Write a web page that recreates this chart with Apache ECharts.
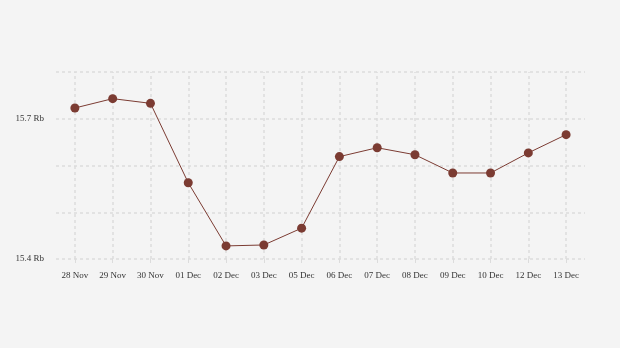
<!DOCTYPE html>
<html>
<head>
<meta charset="utf-8">
<script src="https://cdn.jsdelivr.net/npm/echarts@6/dist/echarts.min.js"></script>
<style>
html,body{margin:0;padding:0;background:#f4f4f4;}
#chart{width:620px;height:348px;}
</style>
</head>
<body>
<div id="chart"></div>
<script>
var categories = ['28 Nov','29 Nov','30 Nov','01 Dec','02 Dec','03 Dec','05 Dec','06 Dec','07 Dec','08 Dec','09 Dec','10 Dec','12 Dec','13 Dec'];
var values = [15.723, 15.743, 15.733, 15.563, 15.428, 15.430, 15.466, 15.619, 15.638, 15.623, 15.584, 15.584, 15.627, 15.666];
var yLabelValues = [15.4, 15.7];
var yLabelSuffix = ' Rb';

var chart = echarts.init(document.getElementById('chart'));
var gridColor = '#dcdcdc';
chart.setOption({
  backgroundColor: '#f4f4f4',
  animation: false,
  grid: { left: 56, right: 35, top: 72, bottom: 89 },
  xAxis: {
    type: 'category',
    data: categories,
    boundaryGap: true,
    axisLine: { show: false },
    axisTick: { show: true, alignWithLabel: true, length: 4, lineStyle: { color: gridColor } },
    splitLine: { show: false },
    axisLabel: { color: '#333', fontFamily: 'Liberation Serif', fontSize: 9, margin: 12 }
  },
  yAxis: {
    type: 'value',
    min: 15.4,
    max: 15.8,
    interval: 0.1,
    axisLine: { show: false },
    axisTick: { show: false },
    splitLine: { show: true, lineStyle: { color: gridColor, type: [3, 3], width: 1.5 } },
    axisLabel: {
      color: '#333', fontFamily: 'Liberation Serif', fontSize: 9, margin: 12,
      formatter: function (v) {
        for (var i = 0; i < yLabelValues.length; i++) {
          if (Math.abs(v - yLabelValues[i]) < 1e-6) return yLabelValues[i].toFixed(1) + yLabelSuffix;
        }
        return '';
      }
    }
  },
  series: [
    {
      type: 'line',
      data: [],
      zlevel: 0,
      z: 1,
      markLine: {
        silent: true,
        symbol: ['none', 'none'],
        label: { show: false },
        lineStyle: { color: gridColor, type: [3, 3], width: 1.5 },
        data: categories.map(function (c) { return { xAxis: c }; })
      }
    },
    {
      type: 'line',
      data: values,
      zlevel: 1,
      z: 3,
      symbol: 'circle',
      symbolSize: 9,
      itemStyle: { color: '#7b3b32' },
      lineStyle: { color: '#7b3b32', width: 1 }
    }
  ]
});
</script>
</body>
</html>
